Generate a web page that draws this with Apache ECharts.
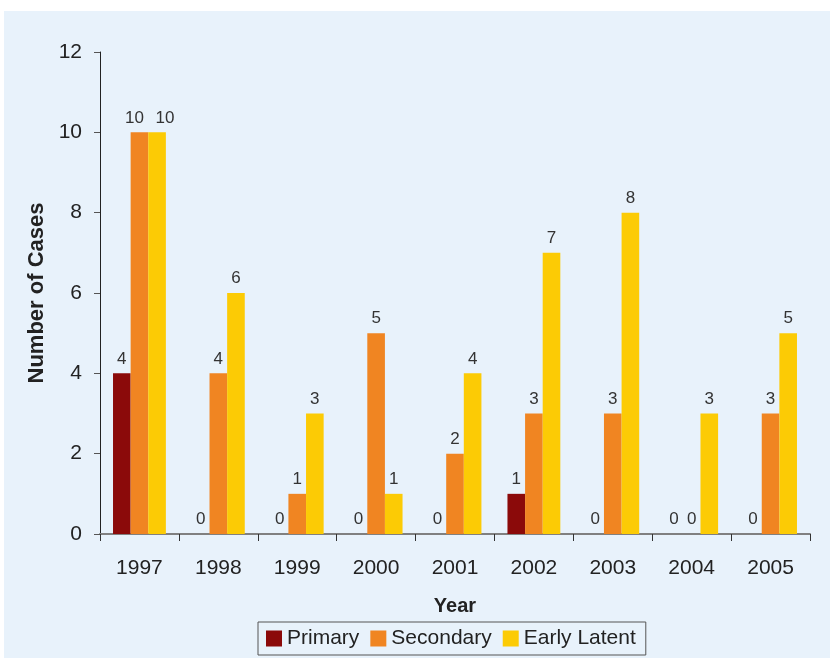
<!DOCTYPE html>
<html><head><meta charset="utf-8">
<script src="https://cdn.jsdelivr.net/npm/echarts@6/dist/echarts.min.js"></script>
<style>html,body{margin:0;padding:0;background:#fff}#c{width:830px;height:658px}</style>
</head><body><div id="c"></div>
<script>
var years = ['1997','1998','1999','2000','2001','2002','2003','2004','2005'];
var primary = [4,0,0,0,0,1,0,0,0];
var secondary = [10,4,1,5,2,3,3,0,3];
var earlyLatent = [10,6,3,1,4,7,8,3,5];
var yTicks = [0,2,4,6,8,10,12];

// label nudges where neighbouring labels would collide (style only)
function withNudge(values, idx, dx){
  return values.map(function(v,i){
    return i===idx ? {value:v, label:{offset:[dx,0]}} : v;
  });
}

var chart = echarts.init(document.getElementById('c'));
var lbl = {show:true, position:'top', distance:6, color:'#333', fontSize:17, fontFamily:'Liberation Sans, Arial'};
chart.setOption({
  animation:false,
  textStyle:{fontFamily:'Liberation Sans, Arial'},
  graphic:[{type:'rect', shape:{x:4,y:11,width:830,height:660}, style:{fill:'#e8f2fb'}, z:-10}],
  grid:{left:100,right:20,top:52,bottom:124},
  legend:{
    bottom:3, left:258, itemWidth:16, itemHeight:16, itemGap:11,
    borderColor:'#555', borderWidth:1, padding:[6,10,6,8],
    textStyle:{fontSize:21,color:'#222'},
    icon:'rect',
    data:['Primary','Secondary','Early Latent']
  },
  xAxis:{type:'category', data:years,
    name:'Year', nameLocation:'middle', nameGap:62,
    nameTextStyle:{fontSize:20,fontWeight:'bold',color:'#222'},
    axisLine:{lineStyle:{color:'#808080',width:2}},
    axisTick:{show:true,length:7,lineStyle:{color:'#333'}},
    axisLabel:{fontSize:21,color:'#222',margin:24}
  },
  yAxis:{type:'value', min:0, max:12, interval:2,
    name:'Number of Cases', nameLocation:'middle', nameGap:45,
    nameTextStyle:{fontSize:22,fontWeight:'bold',color:'#222'},
    axisLine:{show:true,lineStyle:{color:'#222',width:1}},
    axisTick:{show:true,length:6,lineStyle:{color:'#555'}},
    splitLine:{show:false},
    axisLabel:{fontSize:21,color:'#222',margin:18,
      formatter:function(v){return yTicks.indexOf(v)>=0?String(v):'';}}
  },
  series:[
    {name:'Primary',type:'bar',data:primary,itemStyle:{color:'#8b0a0a'},barGap:'0%',barCategoryGap:'33%',label:lbl},
    {name:'Secondary',type:'bar',data:withNudge(secondary,0,-5),itemStyle:{color:'#f08522'},barGap:'0%',barCategoryGap:'33%',label:lbl},
    {name:'Early Latent',type:'bar',data:withNudge(earlyLatent,0,8),itemStyle:{color:'#fccb05'},barGap:'0%',barCategoryGap:'33%',label:lbl}
  ]
});
</script></body></html>
